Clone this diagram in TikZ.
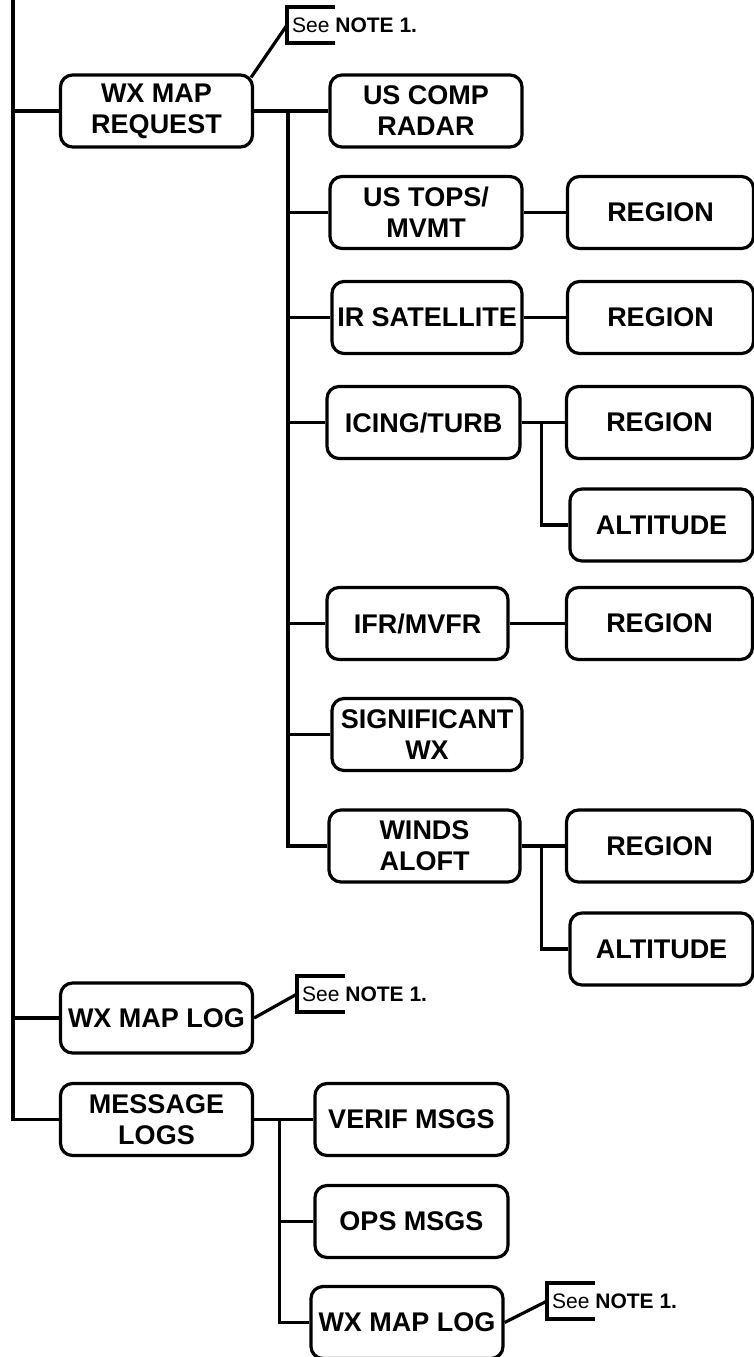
\documentclass[tikz,border=0pt]{standalone}
\usepackage{fontspec}
\setmainfont{Liberation Sans}
\usepackage{tikz}

\begin{document}
\begin{tikzpicture}[x=1pt, y=-1pt,
  box/.style={draw, line width=3.2pt, rounded corners=12pt, minimum width=192pt,
    minimum height=72pt, inner sep=0pt, align=center,
    font=\bfseries\fontsize{27}{31}\selectfont},
  sub/.style={box, minimum width=186pt},
  link/.style={line width=3.2pt},
  note/.style={anchor=west, inner sep=0pt, font=\fontsize{21}{24}\selectfont}
]
\clip (0,0) rectangle (754,1357);

% first level
\node[box] (req)   at (156.5,111)   {WX MAP\\REQUEST};
\node[box, minimum height=70pt] (wlog1) at (156.5,1018) {WX MAP LOG};
\node[box] (msg)   at (156.5,1119.5) {MESSAGE\\LOGS};

% map products
\node[box] (comp)  at (426,111)    {US COMP\\RADAR};
\node[box] (tops)  at (426,212.5)  {US TOPS/\\MVMT};
\node[box, minimum width=190pt] (irsat) at (427,317.5) {IR SATELLITE};
\node[box, minimum width=193pt] (icing) at (423.5,422.5) {ICING/TURB};
\node[box, minimum width=181pt] (ifr)   at (417.5,623.5) {IFR/MVFR};
\node[box, minimum width=190pt] (sig)   at (427,734.5) {SIGNIFICANT\\WX};
\node[box, minimum width=191pt] (winds) at (424.5,846) {WINDS\\ALOFT};

% selections
\node[sub] (reg1) at (660.5,212.5) {REGION};
\node[sub] (reg2) at (660.5,317.5) {REGION};
\node[sub] (reg3) at (659.5,422.5) {REGION};
\node[sub, minimum width=183pt] (alt3) at (661.5,525) {ALTITUDE};
\node[sub] (reg4) at (659.5,623.5) {REGION};
\node[sub] (reg5) at (659.5,846) {REGION};
\node[sub, minimum width=183pt] (alt5) at (661.5,949) {ALTITUDE};

% message logs
\node[box, minimum width=193pt] (verif) at (411.5,1119.5) {VERIF MSGS};
\node[box, minimum width=193pt] (ops)   at (411.5,1221.5) {OPS MSGS};
\node[box] (wlog2) at (407,1322.5) {WX MAP LOG};

% notes
\node[note] (n1) at (292,25)   {See \textbf{NOTE 1.}};
\node[note] (n2) at (302,994)  {See \textbf{NOTE 1.}};
\node[note] (n3) at (552,1301) {See \textbf{NOTE 1.}};
\foreach \n in {n1,n2,n3}
  \draw[link] ([shift={(43,-18)}]\n.west) -| ([shift={(-5,18)}]\n.west) -- ++(48,0);
\draw[link] ([shift={(-3,4)}]req.north east) -- ([xshift=-5]n1.west);
\draw[link] (wlog1.east) -- ([xshift=-5]n2.west);
\draw[link] (wlog2.east) -- ([xshift=-5]n3.west);

% trunk
\coordinate (trunk) at (13,0);
\draw[link] (trunk) |- (msg.west);
\foreach \c in {req, wlog1}
  \draw[link] (trunk |- \c.west) -- (\c.west);

% map request branch
\coordinate (reqbus) at (288,0);
\draw[link] (req.east) -- (comp.west);
\draw[link] (reqbus |- comp.west) |- (winds.west);
\foreach \c in {tops, irsat, icing, ifr, sig}
  \draw[link] (reqbus |- \c.west) -- (\c.west);
\foreach \a/\b in {tops/reg1, irsat/reg2, icing/reg3, ifr/reg4, winds/reg5}
  \draw[link] (\a.east) -- (\b.west);
\draw[link] ([xshift=20]icing.east) |- (alt3.west);
\draw[link] ([xshift=20]winds.east) |- (alt5.west);

% message logs branch
\coordinate (msgbus) at ([xshift=25]msg.east);
\draw[link] (msg.east) -- (verif.west);
\draw[link] (msgbus) |- (wlog2.west);
\draw[link] (msgbus |- ops.west) -- (ops.west);
\end{tikzpicture}
\end{document}
